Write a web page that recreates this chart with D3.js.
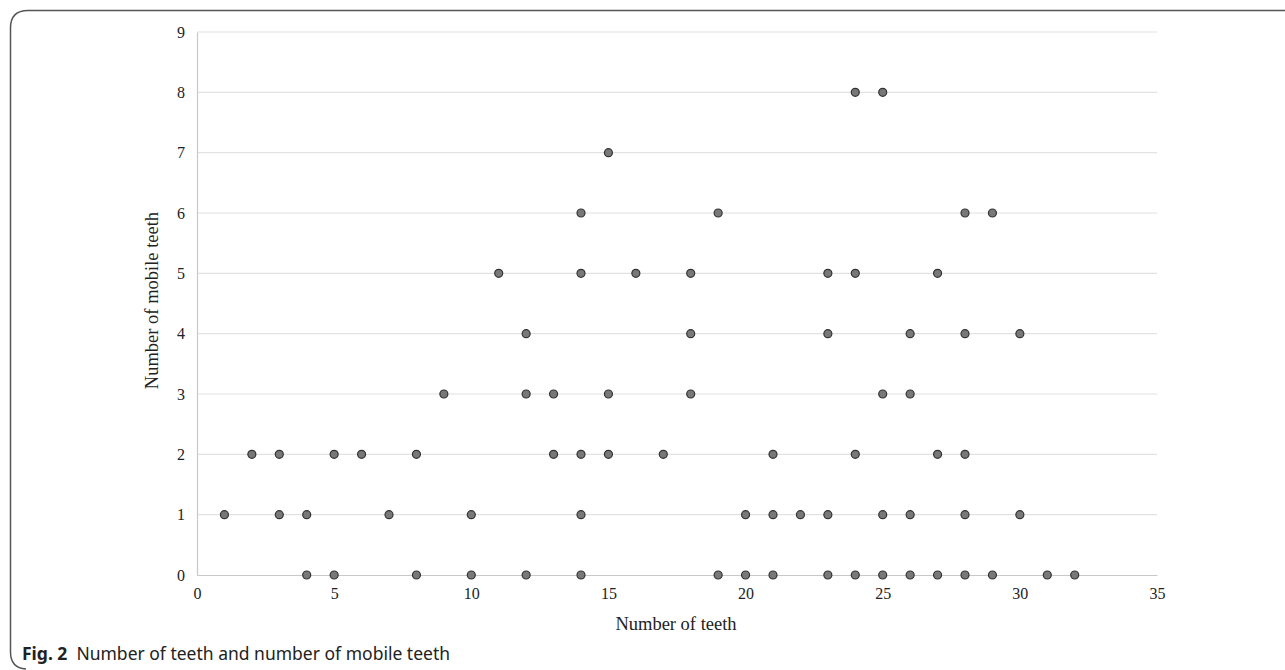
<!DOCTYPE html>
<html>
<head>
<meta charset="utf-8">
<script src="https://cdn.jsdelivr.net/npm/d3@7"></script>
<style>
  body { margin: 0; background: #fff; }
</style>
</head>
<body>
<div id="mainContainer"></div>
<script>
// number of teeth (x) and number of mobile teeth (y), one entry per patient
var teethCount = [
    4, 5, 8, 10, 12, 14, 19, 20, 21, 23, 24, 25, 26, 27, 28, 29, 31, 32,
    1, 3, 4, 7, 10, 14, 20, 21, 22, 23, 25, 26, 28, 30,
    2, 3, 5, 6, 8, 13, 14, 15, 17, 21, 24, 27, 28,
    9, 12, 13, 15, 18, 25, 26,
    12, 18, 23, 26, 28, 30,
    11, 14, 16, 18, 23, 24, 27,
    14, 19, 28, 29,
    15,
    24, 25
];
var mobileCount = [
    0, 0, 0, 0, 0, 0, 0, 0, 0, 0, 0, 0, 0, 0, 0, 0, 0, 0,
    1, 1, 1, 1, 1, 1, 1, 1, 1, 1, 1, 1, 1, 1,
    2, 2, 2, 2, 2, 2, 2, 2, 2, 2, 2, 2, 2,
    3, 3, 3, 3, 3, 3, 3,
    4, 4, 4, 4, 4, 4,
    5, 5, 5, 5, 5, 5, 5,
    6, 6, 6, 6,
    7,
    8, 8
];
var xTicks = [0, 5, 10, 15, 20, 25, 30, 35];
var yTicks = [0, 1, 2, 3, 4, 5, 6, 7, 8, 9];
var labelX = "Number of teeth";
var labelY = "Number of mobile teeth";
var figLabel = "Fig. 2";
var caption = "Number of teeth and number of mobile teeth";

var dataArray = [];
for (var i = 0; i < teethCount.length && i < mobileCount.length; i++) {
    dataArray.push({ x: teethCount[i], y: mobileCount[i] });
}

var W = 1285, H = 670;
var margin = { top: 32, right: 128, bottom: 95, left: 197 },
    width = W - margin.left - margin.right,
    height = H - margin.top - margin.bottom;

var svg = d3.select('#mainContainer').append('svg')
    .attr('width', W)
    .attr('height', H);

// figure frame (open on the right)
svg.append('path')
    .attr('d', 'M1300,10.5 L28,10.5 Q10.5,10.5 10.5,28 L10.5,652 Q10.5,668 26,669')
    .attr('fill', 'none')
    .attr('stroke', '#555')
    .attr('stroke-width', 1.5);

var g = svg.append('g')
    .attr('transform', 'translate(' + margin.left + ',' + margin.top + ')');

var xscale = d3.scaleLinear().domain([0, 35]).range([0, width]);
var yscale = d3.scaleLinear().domain([0, 9]).range([height, 0]);

// gridlines
g.append('g')
    .selectAll('line')
    .data(yTicks.filter(function (d) { return d > 0; }))
    .enter()
    .append('line')
    .attr('x1', 0)
    .attr('x2', width)
    .attr('y1', function (d) { return yscale(d); })
    .attr('y2', function (d) { return yscale(d); })
    .attr('stroke', '#e2e2e2')
    .attr('stroke-width', 1.2);

var xAxis = g.append('g')
    .attr('transform', 'translate(0,' + height + ')')
    .call(d3.axisBottom(xscale).tickValues(xTicks).tickSize(0).tickPadding(13));

var yAxis = g.append('g')
    .call(d3.axisLeft(yscale).tickValues(yTicks).tickSize(0).tickPadding(12));

[xAxis, yAxis].forEach(function (ax) {
    ax.select('.domain').attr('stroke', '#c8c8c8').attr('stroke-width', 1.2);
    ax.selectAll('text')
        .attr('fill', '#222')
        .attr('font-family', '"Liberation Serif", "Times New Roman", serif')
        .attr('font-size', '16px');
});

g.append('text')
    .attr('x', width / 2 - 1)
    .attr('y', height + 55)
    .attr('text-anchor', 'middle')
    .attr('fill', '#222')
    .attr('font-family', '"Liberation Serif", "Times New Roman", serif')
    .attr('font-size', '18.5px')
    .text(labelX);

g.append('text')
    .attr('transform', 'rotate(-90)')
    .attr('x', -height / 2 + 3)
    .attr('y', -39)
    .attr('text-anchor', 'middle')
    .attr('fill', '#222')
    .attr('font-family', '"Liberation Serif", "Times New Roman", serif')
    .attr('font-size', '18.5px')
    .text(labelY);

g.append('g')
    .selectAll('circle')
    .data(dataArray)
    .enter()
    .append('circle')
    .attr('cx', function (d) { return xscale(d.x); })
    .attr('cy', function (d) { return yscale(d.y); })
    .attr('r', 4)
    .attr('fill', '#787878')
    .attr('stroke', '#333')
    .attr('stroke-width', 1.2);

// caption
var cap = svg.append('text')
    .attr('x', 22)
    .attr('y', 660)
    .attr('fill', '#222')
    .attr('font-family', '"Noto Sans", "Open Sans", sans-serif')
    .attr('font-size', '17.5px');
cap.append('tspan').attr('font-weight', 'bold').text(figLabel);
cap.append('tspan').attr('dx', 9).text(caption);
</script>
</body>
</html>
